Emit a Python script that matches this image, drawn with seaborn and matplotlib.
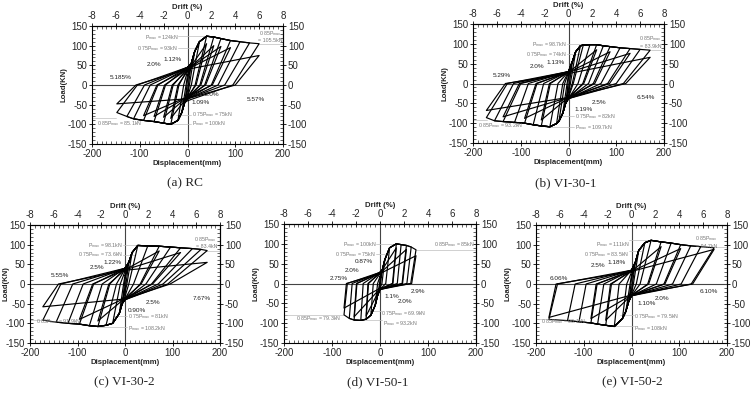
import matplotlib
matplotlib.use('Agg')
import pandas as pd
import seaborn as sns
import matplotlib.pyplot as plt
from matplotlib.ticker import MultipleLocator

# one entry per load cycle:
#   dp/pp = positive peak, rp = disp where load returns to zero after it,
#   cn = load at zero disp heading negative, dn/pn = negative peak,
#   rn = zero-load disp after negative peak, cp = load at zero disp heading positive

# (a) RC
rc_dp = [8, 15, 25, 40, 40, 55, 55, 70, 70, 90, 90, 110, 130, 150, 150]
rc_pp = [55, 85, 110, 124, 105, 122, 100, 118, 98, 113, 95, 110, 107, 105, 75]
rc_rp = [2, 4, 8, 16, 18, 26, 28, 36, 38, 50, 52, 64, 78, 95, 100]
rc_cn = [-15, -25, -30, -35, -30, -35, -30, -35, -30, -35, -30, -35, -35, -40, -35]
rc_dn = [-6, -12, -20, -35, -35, -50, -50, -70, -70, -92, -92, -113, -127, -148, -148]
rc_pn = [-45, -70, -90, -100, -85, -97, -82, -93, -80, -90, -78, -86, -80, -70, -48]
rc_rn = [-1, -3, -8, -18, -20, -30, -32, -46, -48, -62, -64, -78, -90, -105, -108]
rc_cp = [15, 25, 35, 40, 35, 42, 38, 45, 40, 45, 40, 45, 45, 45, 40]

# (b) VI-30-1
v301_dp = [8, 15, 25, 31, 45, 59, 59, 73, 87, 87, 108, 129, 129, 150, 171, 171]
v301_pp = [55, 80, 95, 97, 98, 98, 85, 95, 93, 80, 90, 88, 76, 86, 84, 66]
v301_rp = [2, 4, 8, 10, 20, 30, 32, 42, 52, 55, 68, 82, 86, 100, 115, 120]
v301_cn = [-15, -22, -30, -35, -38, -38, -35, -38, -38, -35, -38, -38, -35, -38, -38, -35]
v301_dn = [-6, -12, -20, -25, -39, -57, -57, -74, -92, -92, -113, -137, -137, -155, -172, -172]
v301_pn = [-50, -75, -95, -101, -109, -107, -92, -104, -100, -88, -98, -96, -84, -94, -86, -68]
v301_rn = [-1, -3, -8, -12, -22, -38, -40, -52, -66, -68, -84, -100, -103, -115, -128, -132]
v301_cp = [15, 22, 28, 30, 30, 30, 28, 30, 30, 28, 30, 30, 28, 30, 30, 25]

# (c) VI-30-2
v302_dp = [8, 15, 27, 48, 72, 72, 96, 117, 117, 142, 160, 173, 173]
v302_pp = [55, 80, 98, 97, 96, 84, 94, 92, 80, 90, 88, 85, 55]
v302_rp = [2, 4, 8, 18, 32, 34, 44, 56, 58, 70, 80, 90, 95]
v302_cn = [-15, -22, -32, -38, -40, -36, -40, -40, -36, -40, -40, -40, -38]
v302_dn = [-6, -12, -26, -40, -57, -57, -75, -96, -96, -120, -145, -173, -173]
v302_pn = [-50, -75, -100, -105, -108, -94, -106, -102, -90, -100, -97, -92, -58]
v302_rn = [-1, -3, -10, -18, -32, -34, -48, -66, -68, -88, -110, -135, -140]
v302_cp = [15, 22, 32, 38, 40, 36, 40, 40, 36, 40, 40, 40, 35]

# (d) VI-50-1
v501_dp = [5, 10, 20, 34, 34, 44, 55, 55, 65, 75, 75]
v501_pp = [35, 60, 90, 100, 90, 98, 96, 86, 92, 85, 70]
v501_rp = [1, 4, 12, 26, 27, 36, 46, 47, 56, 64, 66]
v501_cn = [-8, -12, -15, -15, -13, -15, -15, -13, -15, -15, -12]
v501_dn = [-5, -10, -19, -29, -29, -40, -54, -54, -64, -75, -75]
v501_pn = [-30, -55, -80, -90, -82, -93, -92, -84, -88, -79, -62]
v501_rn = [-1, -5, -14, -24, -25, -35, -48, -49, -58, -68, -70]
v501_cp = [10, 18, 25, 28, 26, 28, 28, 26, 28, 28, 25]

# (e) VI-50-2
v502_dp = [8, 15, 28, 41, 62, 62, 83, 103, 103, 124, 145, 173, 173]
v502_pp = [55, 85, 105, 111, 107, 95, 104, 100, 90, 97, 95, 92, 88]
v502_rp = [2, 4, 10, 18, 34, 36, 52, 68, 70, 86, 104, 125, 128]
v502_cn = [-15, -22, -28, -30, -30, -28, -30, -30, -28, -30, -30, -30, -28]
v502_dn = [-6, -12, -19, -36, -54, -54, -71, -85, -85, -110, -134, -173, -173]
v502_pn = [-45, -70, -88, -108, -105, -92, -102, -99, -88, -96, -93, -90, -85]
v502_rn = [-1, -3, -10, -26, -42, -44, -58, -72, -74, -95, -118, -155, -158]
v502_cp = [15, 22, 30, 35, 35, 32, 35, 35, 32, 35, 35, 35, 32]

# annotations: (text, disp, load, align)
rc_notes = [
    ("P$_{max}$ = 124kN", -20, 121, 'right'),
    ("0.75P$_{max}$ = 93kN", -20, 93, 'right'),
    ("1.12%", -12, 66, 'right'),
    ("2.0%", -54, 52, 'right'),
    ("5.185%", -117, 19, 'right'),
    ("0.85P$_{max}$\n= 105.5kN", 198, 124, 'right'),
    ("2.0%", 37, -25, 'left'),
    ("1.09%", 9, -44, 'left'),
    ("5.57%", 123, -36, 'left'),
    ("0.75P$_{max}$ = 75kN", 9, -74, 'left'),
    ("P$_{max}$ = 100kN", 9, -97, 'left'),
    ("0.85P$_{max}$ = 85.1kN", -190, -97, 'left'),
]
v301_notes = [
    ("P$_{max}$ = 98.7kN", -4, 98, 'right'),
    ("0.75P$_{max}$ = 74kN", -4, 74, 'right'),
    ("1.13%", -8, 53, 'right'),
    ("2.0%", -50, 44, 'right'),
    ("5.29%", -120, 21, 'right'),
    ("0.85P$_{max}$\n= 83.9kN", 195, 106, 'right'),
    ("2.5%", 48, -48, 'left'),
    ("1.19%", 13, -65, 'left'),
    ("6.54%", 143, -36, 'left'),
    ("0.75P$_{max}$ = 82kN", 13, -84, 'left'),
    ("P$_{max}$ = 109.7kN", 13, -112, 'left'),
    ("0.85P$_{max}$ = 93.2kN", -190, -105, 'left'),
]
v302_notes = [
    ("P$_{max}$ = 98.1kN", -5, 98, 'right'),
    ("0.75P$_{max}$ = 73.6kN", -5, 75, 'right'),
    ("1.22%", -8, 54, 'right'),
    ("2.5%", -43, 43, 'right'),
    ("5.55%", -117, 22, 'right'),
    ("0.85P$_{max}$\n= 83.4kN", 194, 106, 'right'),
    ("2.5%", 44, -47, 'left'),
    ("0.90%", 6, -67, 'left'),
    ("7.67%", 142, -36, 'left'),
    ("0.75P$_{max}$ = 81kN", 6, -84, 'left'),
    ("P$_{max}$ = 108.2kN", 6, -113, 'left'),
    ("0.85P$_{max}$ = 91.9kN", -187, -95, 'left'),
]
v501_notes = [
    ("P$_{max}$ = 100kN", -8, 97, 'right'),
    ("0.75P$_{max}$ = 75kN", -8, 74, 'right'),
    ("0.87%", -15, 55, 'right'),
    ("2.0%", -43, 34, 'right'),
    ("2.75%", -68, 13, 'right'),
    ("0.85P$_{max}$ = 85kN", 198, 97, 'right'),
    ("2.9%", 65, -21, 'left'),
    ("1.1%", 9, -34, 'left'),
    ("2.0%", 37, -46, 'left'),
    ("0.75P$_{max}$ = 69.9kN", 2, -76, 'left'),
    ("P$_{max}$ = 93.2kN", 6, -101, 'left'),
    ("0.85P$_{max}$ = 79.3kN", -176, -88, 'left'),
]
v502_notes = [
    ("P$_{max}$ = 111kN", -5, 100, 'right'),
    ("0.75P$_{max}$ = 83.5kN", -5, 75, 'right'),
    ("1.18%", -12, 54, 'right'),
    ("2.5%", -54, 47, 'right'),
    ("6.06%", -134, 14, 'right'),
    ("0.85P$_{max}$\n= 94.7kN", 180, 108, 'right'),
    ("6.10%", 142, -20, 'left'),
    ("2.0%", 48, -36, 'left'),
    ("1.10%", 13, -50, 'left'),
    ("0.75P$_{max}$ = 79.5kN", 6, -84, 'left'),
    ("P$_{max}$ = 108kN", 6, -112, 'left'),
    ("0.85P$_{max}$ = 90.1kN", -190, -95, 'left'),
]

# faint guide lines: (load, disp from, disp to)
rc_guides = [(124, -20, 45), (93, -20, 20), (105.5, 150, 200), (-75, -25, 8), (-100, -45, 8), (-85, -200, -150)]
v301_guides = [(98.7, -4, 50), (74, -4, 25), (83.9, 172, 200), (-82, -25, 12), (-109.7, -50, 12), (-93.2, -200, -170)]
v302_guides = [(98.1, -5, 40), (73.6, -5, 20), (83.4, 170, 200), (-81, -25, 5), (-108.2, -60, 5), (-91.9, -200, -160)]
v501_guides = [(100, -8, 40), (75, -8, 15), (85, 75, 200), (-69.9, -25, 2), (-93.2, -50, 5), (-79.3, -200, -75)]
v502_guides = [(111, -5, 48), (83.5, -5, 20), (94.7, 170, 200), (-79.5, -25, 5), (-108, -36, 5), (-90.1, -200, -170)]


def cycles_df(dp, pp, rp, cn, dn, pn, rn, cp):
    # first cycle at a new amplitude reloads along the earlier peaks (envelope),
    # repeated cycles go straight for their own peak
    rows = []
    for i in range(len(dp)):
        new_p = i == 0 or dp[i] != dp[i - 1]
        new_n = i == 0 or dn[i] != dn[i - 1]
        xs, ys = [0], [cp[i]]
        if new_p:
            for j in range(i):
                if (j == 0 or dp[j] != dp[j - 1]) and dp[j] < dp[i] and pp[j] > cp[i]:
                    xs.append(dp[j])
                    ys.append(pp[j])
        xs += [dp[i], rp[i], 0]
        ys += [pp[i], 0, cn[i]]
        if new_n:
            for j in range(i):
                if (j == 0 or dn[j] != dn[j - 1]) and dn[j] > dn[i] and pn[j] < cn[i]:
                    xs.append(dn[j])
                    ys.append(pn[j])
        xs += [dn[i], rn[i], 0]
        ys += [pn[i], 0, cp[i]]
        for k in range(len(xs)):
            rows.append((i, k, xs[k], ys[k]))
    return pd.DataFrame(rows, columns=['cycle', 'step', 'disp', 'load'])


sns.set_style('ticks')
plt.rcParams['font.family'] = ['Liberation Sans', 'DejaVu Sans']
plt.rcParams['mathtext.fontset'] = 'custom'
plt.rcParams['mathtext.rm'] = 'Liberation Sans'
plt.rcParams['mathtext.default'] = 'regular'
plt.rcParams['axes.unicode_minus'] = False

W, H = 754, 403
fig = plt.figure(figsize=(W / 100, H / 100), dpi=100)


def panel(box, df, notes, guides, caption, cap_xy, ylab_px=None):
    l, r, t, b = box
    ax = fig.add_axes([l / W, 1 - b / H, (r - l) / W, (b - t) / H])
    ax.axhline(0, color='#444444', lw=0.8, zorder=1)
    ax.axvline(0, color='#444444', lw=0.8, zorder=1)
    for y, x0, x1 in guides:
        ax.plot([x0, x1], [y, y], color='#bdbdbd', lw=0.5, zorder=1)
    sns.lineplot(data=df, x='disp', y='load', units='cycle', estimator=None,
                 sort=False, color='black', lw=0.85, ax=ax, legend=False)
    for txt, x, y, ha in notes:
        if '%' in txt:
            ax.text(x, y, txt, ha=ha, va='center', fontsize=4.6, color='#222222')
        else:
            ax.text(x, y, txt, ha=ha, va='center', fontsize=3.8, color='#777777',
                    linespacing=1.1)
    ax.set_xlim(-200, 200)
    ax.set_ylim(-150, 150)
    ax.set_xticks([-200, -100, 0, 100, 200])
    ax.set_yticks([-150, -100, -50, 0, 50, 100, 150])
    ax.xaxis.set_minor_locator(MultipleLocator(10))
    ax.yaxis.set_minor_locator(MultipleLocator(10))
    ax.tick_params(which='major', direction='inout', length=4, width=0.7, labelsize=7, pad=1.5)
    ax.tick_params(which='minor', direction='in', length=2, width=0.5)
    ax.set_xlabel('Displacement(mm)', fontsize=5.6, fontweight='bold', labelpad=1)
    ax.set_ylabel('Load(KN)', fontsize=5.6, fontweight='bold', labelpad=0.5)
    if ylab_px is not None:
        ax.yaxis.set_label_coords((ylab_px - l) / (r - l), 0.5)
    for s in ax.spines.values():
        s.set_linewidth(0.8)
        s.set_color('black')

    top = ax.secondary_xaxis('top', functions=(lambda d: d / 25, lambda p: p * 25))
    top.set_xticks([-8, -6, -4, -2, 0, 2, 4, 6, 8])
    top.xaxis.set_minor_locator(MultipleLocator(0.4))
    top.tick_params(which='major', direction='inout', length=4, width=0.7, labelsize=7, pad=1.5)
    top.tick_params(which='minor', direction='in', length=2, width=0.5)
    top.set_xlabel('Drift (%)', fontsize=5.6, fontweight='bold', labelpad=1.5)

    right = ax.secondary_yaxis('right')
    right.set_yticks([-150, -100, -50, 0, 50, 100, 150])
    right.yaxis.set_minor_locator(MultipleLocator(10))
    right.tick_params(which='major', direction='inout', length=4, width=0.7, labelsize=7, pad=1.5)
    right.tick_params(which='minor', direction='in', length=2, width=0.5)

    fig.text(cap_xy[0] / W, 1 - cap_xy[1] / H, caption, ha='center', va='center',
             family='Liberation Serif', fontsize=9.5)
    return ax


panel((92, 283, 26, 144),
      cycles_df(rc_dp, rc_pp, rc_rp, rc_cn, rc_dn, rc_pn, rc_rn, rc_cp),
      rc_notes, rc_guides, '(a) RC', (185, 183))
panel((473, 664, 24, 143),
      cycles_df(v301_dp, v301_pp, v301_rp, v301_cn, v301_dn, v301_pn, v301_rn, v301_cp),
      v301_notes, v301_guides, '(b) VI-30-1', (566, 183))
panel((30, 220, 225, 343),
      cycles_df(v302_dp, v302_pp, v302_rp, v302_cn, v302_dn, v302_pn, v302_rn, v302_cp),
      v302_notes, v302_guides, '(c) VI-30-2', (124, 382), ylab_px=9)
panel((284, 476, 224, 343),
      cycles_df(v501_dp, v501_pp, v501_rp, v501_cn, v501_dn, v501_pn, v501_rn, v501_cp),
      v501_notes, v501_guides, '(d) VI-50-1', (378, 382))
panel((536, 727, 225, 343),
      cycles_df(v502_dp, v502_pp, v502_rp, v502_cn, v502_dn, v502_pn, v502_rn, v502_cp),
      v502_notes, v502_guides, '(e) VI-50-2', (632, 382))

fig.savefig('out.png', dpi=100)
